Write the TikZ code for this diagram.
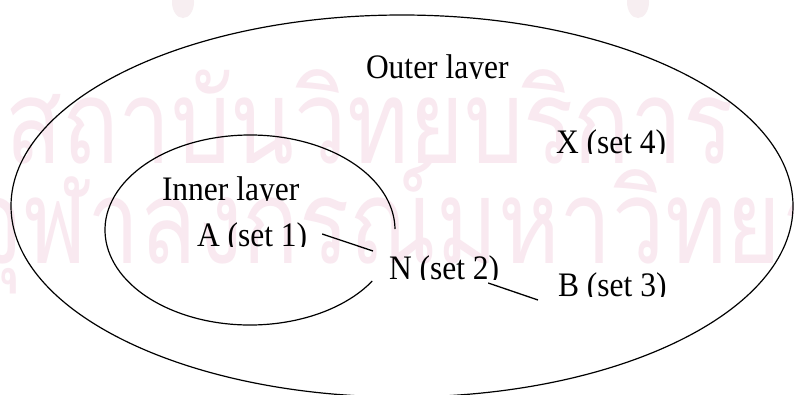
\documentclass[tikz,border=0pt]{standalone}
\usepackage{fontspec}
\usepackage{adjustbox}
\setmainfont{Liberation Serif}
\newfontfamily\thaifont[Script=Thai]{Loma}
\definecolor{wm}{RGB}{249,233,240}
\definecolor{wmlogo}{RGB}{247,238,241}
% labels are set slightly tall and cut off at the baseline
\newcommand{\flatlabel}[1]{\adjustbox{trim=0pt {\depth} 0pt 0pt,clip}{\scalebox{1}[1.09]{#1}}}
\tikzset{
  lbl/.style={anchor=base west, inner sep=0pt, outer sep=0pt, font=\fontsize{31.5}{36}\selectfont},
  layer/.style={draw=black, line width=1.2pt},
  conn/.style={draw=black, line width=1.3pt},
  wmark/.style={anchor=base west, inner sep=0pt, text=wm},
}
\begin{document}
\begin{tikzpicture}[x=1pt, y=-1pt]
\useasboundingbox (0,0) rectangle (794,394);
\clip (0,0) rectangle (794,394);
\fill[white] (0,0) rectangle (794,394);

% background watermark
\fill[wmlogo] (183,2) ellipse [x radius=11, y radius=16];
\fill[wmlogo] (638,2) ellipse [x radius=11, y radius=16];
\node[wmark] (wm1) at (5,163) {\scalebox{0.8}[1]{\thaifont\fontsize{117}{117}\selectfont สถาบันวิทยบริการ}};
\node[wmark] (wm2) at (-32,263) {\scalebox{0.8}[1]{\thaifont\fontsize{117}{117}\selectfont จุฬาลงกรณ์มหาวิทยาลัย}};

% layers
\draw[layer] (402,206) ellipse [x radius=391, y radius=191];
\draw[layer] (250,230) ++(32.5:145 and 95) arc [start angle=32.5, end angle=359.4, x radius=145, y radius=95];

% labels
\node[lbl] (outer) at (366,78) {\flatlabel{Outer layer}};
\node[lbl] (x4) at (556,153) {\flatlabel{X (set 4)}};
\node[lbl] (inner) at (162,200) {\flatlabel{Inner layer}};
\node[lbl] (a1) at (197,246) {\flatlabel{A (set 1)}};
\node[lbl] (n2) at (389,279) {\flatlabel{N (set 2)}};
\node[lbl] (b3) at (558,296) {\flatlabel{B (set 3)}};

% links between the sets
\draw[conn] ([shift={(15,-12)}]a1.base east) -- ([shift={(-16,-28)}]n2.base west);
\draw[conn] ([shift={(-11,4)}]n2.base east) -- ([shift={(-20,4)}]b3.base west);
\end{tikzpicture}
\end{document}
